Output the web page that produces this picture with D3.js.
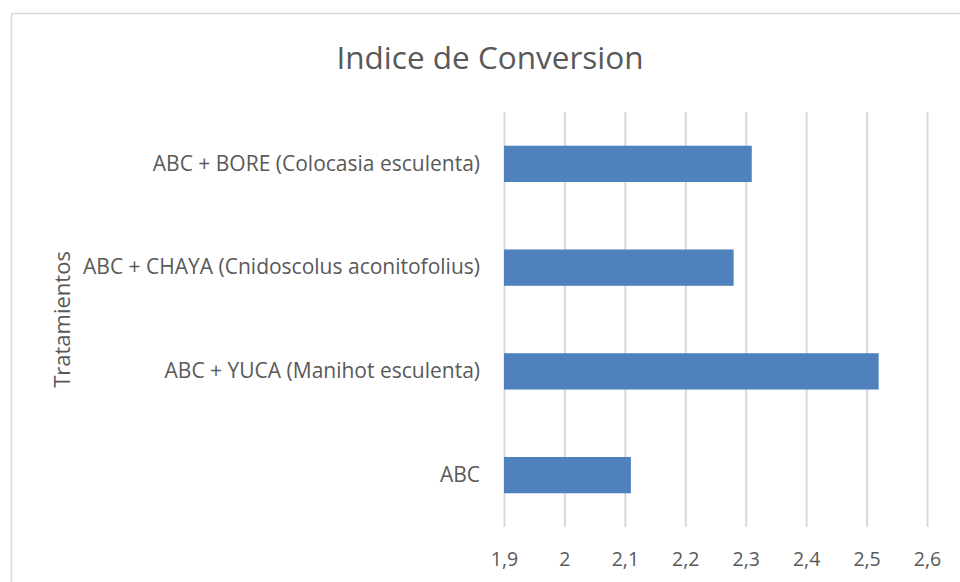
<!DOCTYPE html>
<html>
<head>
<meta charset="utf-8">
<script src="https://cdn.jsdelivr.net/npm/d3@7"></script>
<style>
  body { margin: 0; background: #fff; }
  #graph { width: 960px; height: 582px; }
  text { font-family: "Open Sans", sans-serif; fill: #595959; }
  .grid line { stroke: #d9d9d9; stroke-width: 2px; }
  .grid path { display: none; }
</style>
</head>
<body>
<div id="graph"></div>
<script>
// data
var categories = ["ABC + BORE (Colocasia esculenta)",
                  "ABC + CHAYA (Cnidoscolus aconitofolius)",
                  "ABC + YUCA (Manihot esculenta)",
                  "ABC"];
var values = [2.31, 2.28, 2.52, 2.11];
var xTicks = [1.9, 2.0, 2.1, 2.2, 2.3, 2.4, 2.5, 2.6];

var W = 960, H = 582;
var plot = {left: 504, right: 927, top: 112, bottom: 527};

var svg = d3.select("#graph")
    .append("svg")
    .attr("width", W)
    .attr("height", H);

// chart border (runs off the page on right and bottom)
svg.append("rect")
    .attr("x", 11.5).attr("y", 13.5)
    .attr("width", W + 20).attr("height", H + 20)
    .attr("fill", "none")
    .attr("stroke", "#d9d9d9")
    .attr("stroke-width", 1.5);

var x = d3.scaleLinear()
    .domain([1.9, 2.6])
    .range([plot.left, plot.right]);

var y = d3.scaleBand()
    .domain(categories)
    .range([plot.top, plot.bottom])
    .paddingInner(0.65)
    .paddingOuter(0.325);

// vertical gridlines
svg.append("g")
    .attr("class", "grid")
    .attr("transform", "translate(0," + plot.bottom + ")")
    .call(d3.axisBottom(x)
      .tickValues(xTicks)
      .tickSize(-(plot.bottom - plot.top))
      .tickFormat(""));

// bars
svg.selectAll("rect.bar")
    .data(values)
    .enter()
    .append("rect")
    .attr("class", "bar")
    .attr("x", x(1.9))
    .attr("y", function(d, i) { return y(categories[i]); })
    .attr("width", function(d) { return x(d) - x(1.9); })
    .attr("height", y.bandwidth())
    .attr("fill", "#4f81bd");

// x tick labels
var fmt = function(d) { return d3.format(".1~f")(d).replace(".", ","); };
svg.append("g")
    .attr("transform", "translate(0," + plot.bottom + ")")
    .call(d3.axisBottom(x)
      .tickValues(xTicks)
      .tickSize(0)
      .tickPadding(25)
      .tickFormat(fmt))
    .call(function(g) { g.select(".domain").remove(); })
    .selectAll("text")
    .style("font-size", "19.5px")
    .style("font-family", "'Open Sans', sans-serif")
    .attr("fill", "#595959");

// category labels
svg.append("g")
    .attr("transform", "translate(" + plot.left + ",0)")
    .call(d3.axisLeft(y)
      .tickSize(0)
      .tickPadding(24))
    .call(function(g) { g.select(".domain").remove(); })
    .selectAll("text")
    .style("font-size", "21px")
    .style("font-family", "'Open Sans', sans-serif")
    .attr("fill", "#595959");

// title
svg.append("text")
    .attr("x", 490)
    .attr("y", 69)
    .attr("text-anchor", "middle")
    .style("font-size", "31.5px")
    .text("Indice de Conversion");

// y label
svg.append("text")
    .attr("transform", "translate(70," + ((plot.top + plot.bottom) / 2) + ") rotate(-90)")
    .attr("text-anchor", "middle")
    .style("font-size", "22px")
    .text("Tratamientos");
</script>
</body>
</html>
